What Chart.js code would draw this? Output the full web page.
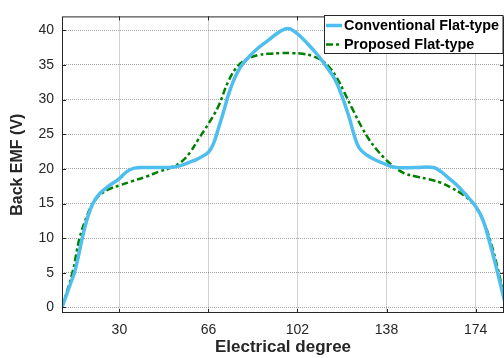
<!DOCTYPE html>
<html>
<head>
<meta charset="utf-8">
<script src="https://cdn.jsdelivr.net/npm/chart.js@4"></script>
<style>
  html, body { margin: 0; padding: 0; background: #fff; }
  .chart-wrap { width: 504px; height: 358px; position: relative; }
</style>
</head>
<body>
<div class="chart-wrap"><canvas id="emf"></canvas></div>
<script>
// values
const degConv = [6.8, 10, 12, 15, 17, 19.3, 22, 26, 30, 33, 36, 40, 45, 50, 54, 58, 62, 66, 68, 70, 72, 74, 76, 78, 80, 83, 86, 90, 94, 97, 99, 102, 106, 110, 114, 117, 120, 123, 125, 127, 130, 134, 138, 142, 150, 157, 160, 163, 166, 170, 174, 177, 180, 183, 186];
const emfConv = [0, 3.2, 5.2, 10, 12.8, 15, 16.4, 17.6, 18.6, 19.6, 20.1, 20.2, 20.2, 20.2, 20.4, 20.9, 21.5, 22.4, 23.6, 25.8, 28.1, 30.6, 32.6, 34.1, 35.2, 36.4, 37.4, 38.5, 39.6, 40.2, 40.2, 39.5, 38.1, 36.5, 34.6, 33.0, 30.5, 27.3, 24.8, 23.0, 22.0, 21.2, 20.6, 20.2, 20.2, 20.2, 19.6, 18.7, 17.8, 16.3, 14.6, 12.6, 9.0, 4.9, 0.5];

const degProp = [6.8, 11, 13.9, 17, 19.3, 22, 26, 30, 35, 41, 46, 51, 55, 58.4, 62, 66, 70, 74, 78, 82, 86, 90, 95, 100, 104, 108, 112, 115, 118, 121, 124, 128, 131, 134, 137, 140, 145, 150, 155, 160, 164, 168, 171, 174, 177, 180, 183, 186];
const emfProp = [0, 5, 10, 13.3, 15, 16.2, 17.1, 17.6, 18.2, 18.9, 19.6, 20.2, 21.0, 22.3, 24.3, 26.5, 29.0, 32.6, 34.9, 35.9, 36.4, 36.6, 36.7, 36.7, 36.6, 36.3, 35.6, 34.6, 33.1, 31.0, 28.8, 26.0, 24.2, 22.8, 21.6, 20.6, 19.4, 18.9, 18.5, 18.0, 17.3, 16.5, 15.7, 14.6, 12.6, 9.6, 5.6, 0.8];

const xTicks = [30, 66, 102, 138, 174];
const yTicks = [0, 5, 10, 15, 20, 25, 30, 35, 40];

const seriesNames = ["Conventional Flat-type", "Proposed Flat-type"];

const axisColor = "#262626";
const gridColor = "rgba(90, 90, 90, 0.55)";
const fontFamily = "'Liberation Sans', Arial, sans-serif";

// box around the axes plus inward tick marks, matlab style
const axesBox = {
  id: "axesBox",
  afterDatasetsDraw(chart) {
    const { ctx, chartArea: a, scales } = chart;
    ctx.save();
    ctx.strokeStyle = axisColor;
    ctx.lineWidth = 1;
    ctx.strokeRect(a.left + 0.5, a.top + 0.5, a.right - a.left - 1, a.bottom - a.top - 1);
    ctx.beginPath();
    xTicks.forEach((v) => {
      const x = Math.round(scales.x.getPixelForValue(v)) + 0.5;
      ctx.moveTo(x, a.bottom);
      ctx.lineTo(x, a.bottom - 4);
      ctx.moveTo(x, a.top);
      ctx.lineTo(x, a.top + 4);
    });
    yTicks.forEach((v) => {
      const y = Math.round(scales.y.getPixelForValue(v)) + 0.5;
      ctx.moveTo(a.left, y);
      ctx.lineTo(a.left + 4, y);
      ctx.moveTo(a.right, y);
      ctx.lineTo(a.right - 4, y);
    });
    ctx.stroke();
    ctx.restore();
  },
};

// legend drawn inside the axes, top right corner
const innerLegend = {
  id: "innerLegend",
  afterDraw(chart) {
    const { ctx, chartArea: a } = chart;
    const boxX = 324.5;
    const boxY = 15.5;
    const boxW = a.right - 1 - boxX;
    const boxH = 38;
    ctx.save();
    ctx.fillStyle = "#fff";
    ctx.fillRect(boxX, boxY, boxW, boxH);
    ctx.strokeStyle = axisColor;
    ctx.lineWidth = 1;
    ctx.strokeRect(boxX, boxY, boxW, boxH);

    chart.data.datasets.forEach((ds, i) => {
      const y = boxY + 10 + i * 19;
      ctx.beginPath();
      ctx.strokeStyle = ds.borderColor;
      ctx.lineWidth = ds.borderWidth;
      ctx.setLineDash(ds.borderDash || []);
      ctx.moveTo(326, y);
      ctx.lineTo(342, y);
      ctx.stroke();
      ctx.setLineDash([]);
      ctx.fillStyle = "#000";
      ctx.font = "bold 14.4px " + fontFamily;
      ctx.textBaseline = "middle";
      ctx.fillText(ds.label, 344, y + 0.5);
    });
    ctx.restore();
  },
};

const toPoints = (xs, ys) => xs.map((x, i) => ({ x, y: ys[i] }));

const ctx = document.getElementById("emf").getContext("2d");

new Chart(ctx, {
  type: "line",
  data: {
    datasets: [
      {
        label: seriesNames[0],
        data: toPoints(degConv, emfConv),
        borderColor: "#4DBEEE",
        borderWidth: 3.5,
        pointRadius: 0,
        tension: 0.4,
      },
      {
        label: seriesNames[1],
        data: toPoints(degProp, emfProp),
        borderColor: "#008000",
        borderWidth: 2.5,
        borderDash: [7, 3, 3, 3],
        pointRadius: 0,
        tension: 0.4,
      },
    ],
  },
  options: {
    responsive: true,
    maintainAspectRatio: false,
    animation: false,
    layout: {
      padding: { top: 12, right: 0, left: 0, bottom: 0 },
    },
    plugins: {
      legend: { display: false },
      tooltip: { enabled: false },
    },
    scales: {
      x: {
        type: "linear",
        min: 6.8,
        max: 185.5,
        afterBuildTicks: (scale) => {
          scale.ticks = xTicks.map((value) => ({ value }));
        },
        afterFit: (scale) => {
          scale.height = 45;
        },
        grid: { color: gridColor, drawTicks: false },
        border: { display: false, dash: [1, 1] },
        ticks: {
          padding: 9,
          color: axisColor,
          font: { family: fontFamily, size: 14 },
        },
        title: {
          display: true,
          text: "Electrical degree",
          color: axisColor,
          padding: { top: 0, bottom: 0 },
          font: { family: fontFamily, size: 17, weight: "bold" },
        },
      },
      y: {
        min: -0.8,
        max: 42,
        afterBuildTicks: (scale) => {
          scale.ticks = yTicks.map((value) => ({ value }));
        },
        afterFit: (scale) => {
          scale.width = 62;
        },
        grid: { color: gridColor, drawTicks: false },
        border: { display: false, dash: [1, 1] },
        ticks: {
          padding: 8,
          color: axisColor,
          font: { family: fontFamily, size: 14 },
        },
        title: {
          display: true,
          text: "Back EMF (V)",
          color: axisColor,
          padding: { top: 8, bottom: 0 },
          font: { family: fontFamily, size: 16, weight: "bold" },
        },
      },
    },
  },
  plugins: [axesBox, innerLegend],
});
</script>
</body>
</html>
